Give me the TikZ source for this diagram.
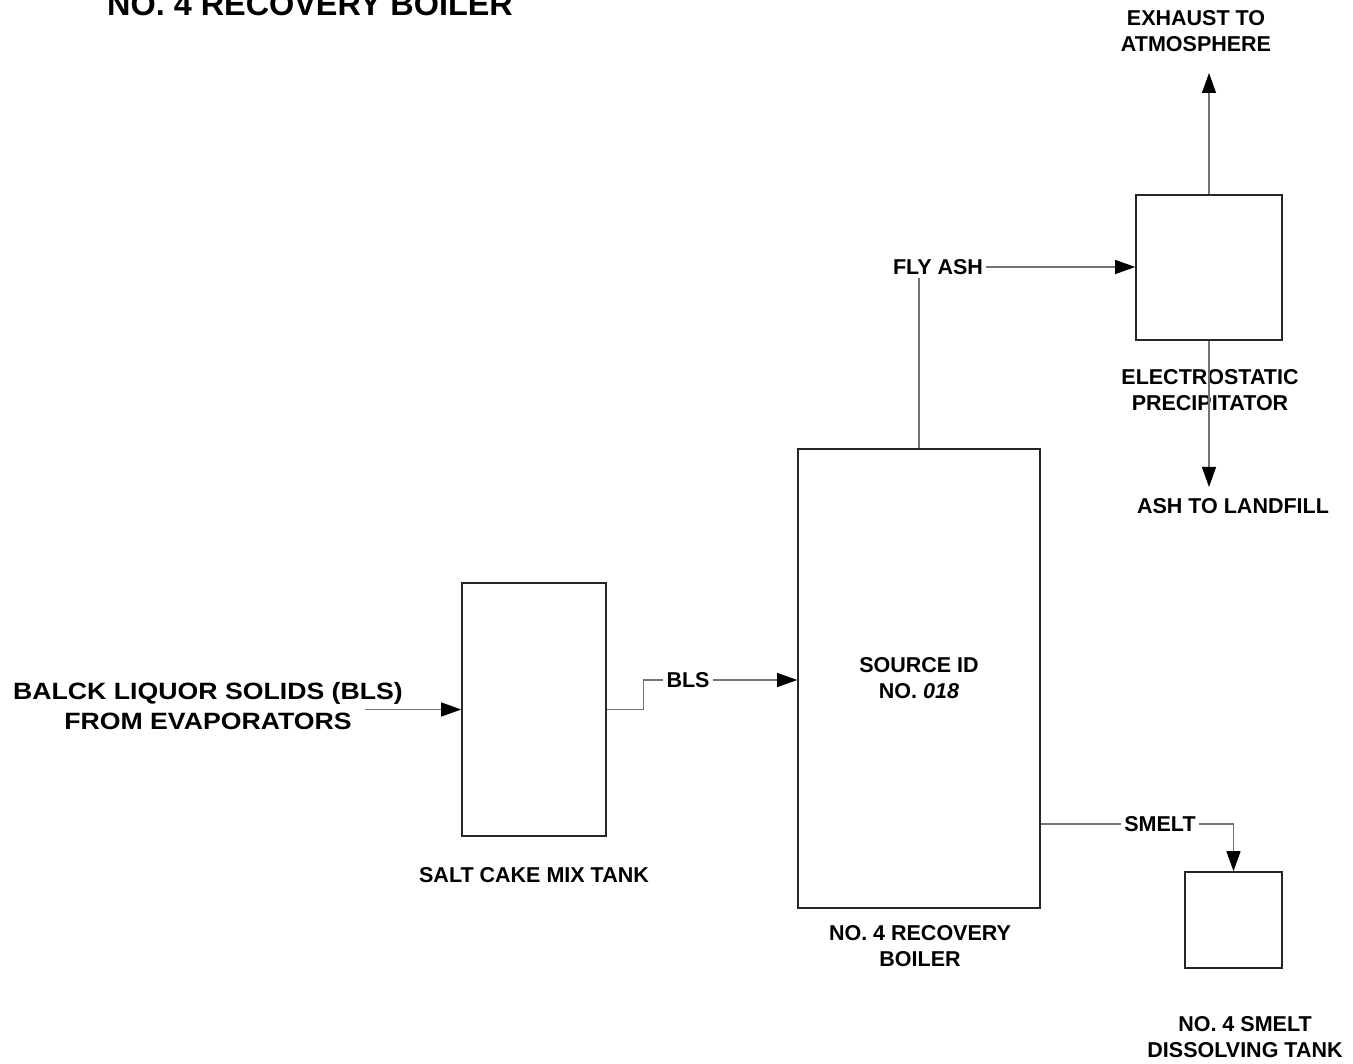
\documentclass[tikz,border=0pt]{standalone}
\usepackage{fontspec}
\setmainfont{Liberation Sans}
\newfontfamily\widefont[FakeStretch=1.13]{Liberation Sans}
\usetikzlibrary{arrows.meta,positioning}

\begin{document}
\begin{tikzpicture}[x=1pt, y=-1pt,
  unit/.style={rectangle, draw=black!85, line width=1.6pt, inner sep=0pt, font=\fontsize{21.5}{26}\selectfont\bfseries, align=center},
  lbl/.style={inner sep=3pt, font=\fontsize{21.5}{26}\selectfont\bfseries, align=center},
  pipe/.style={line width=1.2pt, draw=black!55},
  edge/.style={pipe, -{Triangle[length=20pt, width=14pt, color=black]}}
]
\useasboundingbox (0,0) rectangle (1353,1064);
% title, cut at the top edge
\node[anchor=base, font=\fontsize{32.4}{32}\selectfont\bfseries, inner sep=0pt] (title) at (310,16) {NO. 4 RECOVERY BOILER};
% process units
\node[unit, minimum width=144pt, minimum height=253pt] (tank) at (534,709.5) {};
\node[unit, minimum width=242pt, minimum height=459pt] (boiler) at (919,678.5) {SOURCE ID\\NO. \textit{018}};
\node[unit, minimum width=146pt, minimum height=145pt] (esp) at (1209,267.5) {};
\node[unit, minimum width=97pt, minimum height=96pt] (dissolver) at (1233.5,920) {};
% captions
\node[lbl, font=\fontsize{23.6}{30}\selectfont\widefont\bfseries] (feed) at (208,706) {BALCK LIQUOR SOLIDS (BLS)\\FROM EVAPORATORS};
\node[lbl] (tankname) at (534,875) {SALT CAKE MIX TANK};
\node[lbl] (boilername) at (920,946.5) {NO. 4 RECOVERY\\BOILER};
\node[lbl] (espname) at (1210,390) {ELECTROSTATIC\\PRECIPITATOR};
\node[lbl] (dissolvername) at (1245,1037) {NO. 4 SMELT\\DISSOLVING TANK};
\node[lbl] (exhaust) at (1196,31) {EXHAUST TO\\ATMOSPHERE};
\node[lbl] (landfill) at (1233,506) {ASH TO LANDFILL};
% stream labels
\node[lbl] (bls) at (688,680) {BLS};
\node[lbl] (flyash) at (938,267) {FLY ASH};
\node[lbl] (smelt) at (1160,824) {SMELT};
\coordinate (feedin) at (365,709.5);
\coordinate (exhausttip) at (1209,73);
\coordinate (landfilltip) at (1209,487);
% streams
\draw[edge] (feedin) -- (tank.west);
\draw[pipe] (tank.east) -- ++(37,0) |- (bls.west);
\draw[edge] (bls.east) -- (bls.east -| boiler.west);
\draw[pipe] (boiler.north) -- (boiler.north |- flyash.south);
\draw[edge] (flyash.east) -- (flyash.east -| esp.west);
\draw[edge] (esp.north) -- (exhausttip);
\draw[edge] (esp.south) -- (landfilltip);
\draw[pipe] (boiler.east |- smelt.west) -- (smelt.west);
\draw[edge] (smelt.east) -| (dissolver.north);
\end{tikzpicture}
\end{document}
